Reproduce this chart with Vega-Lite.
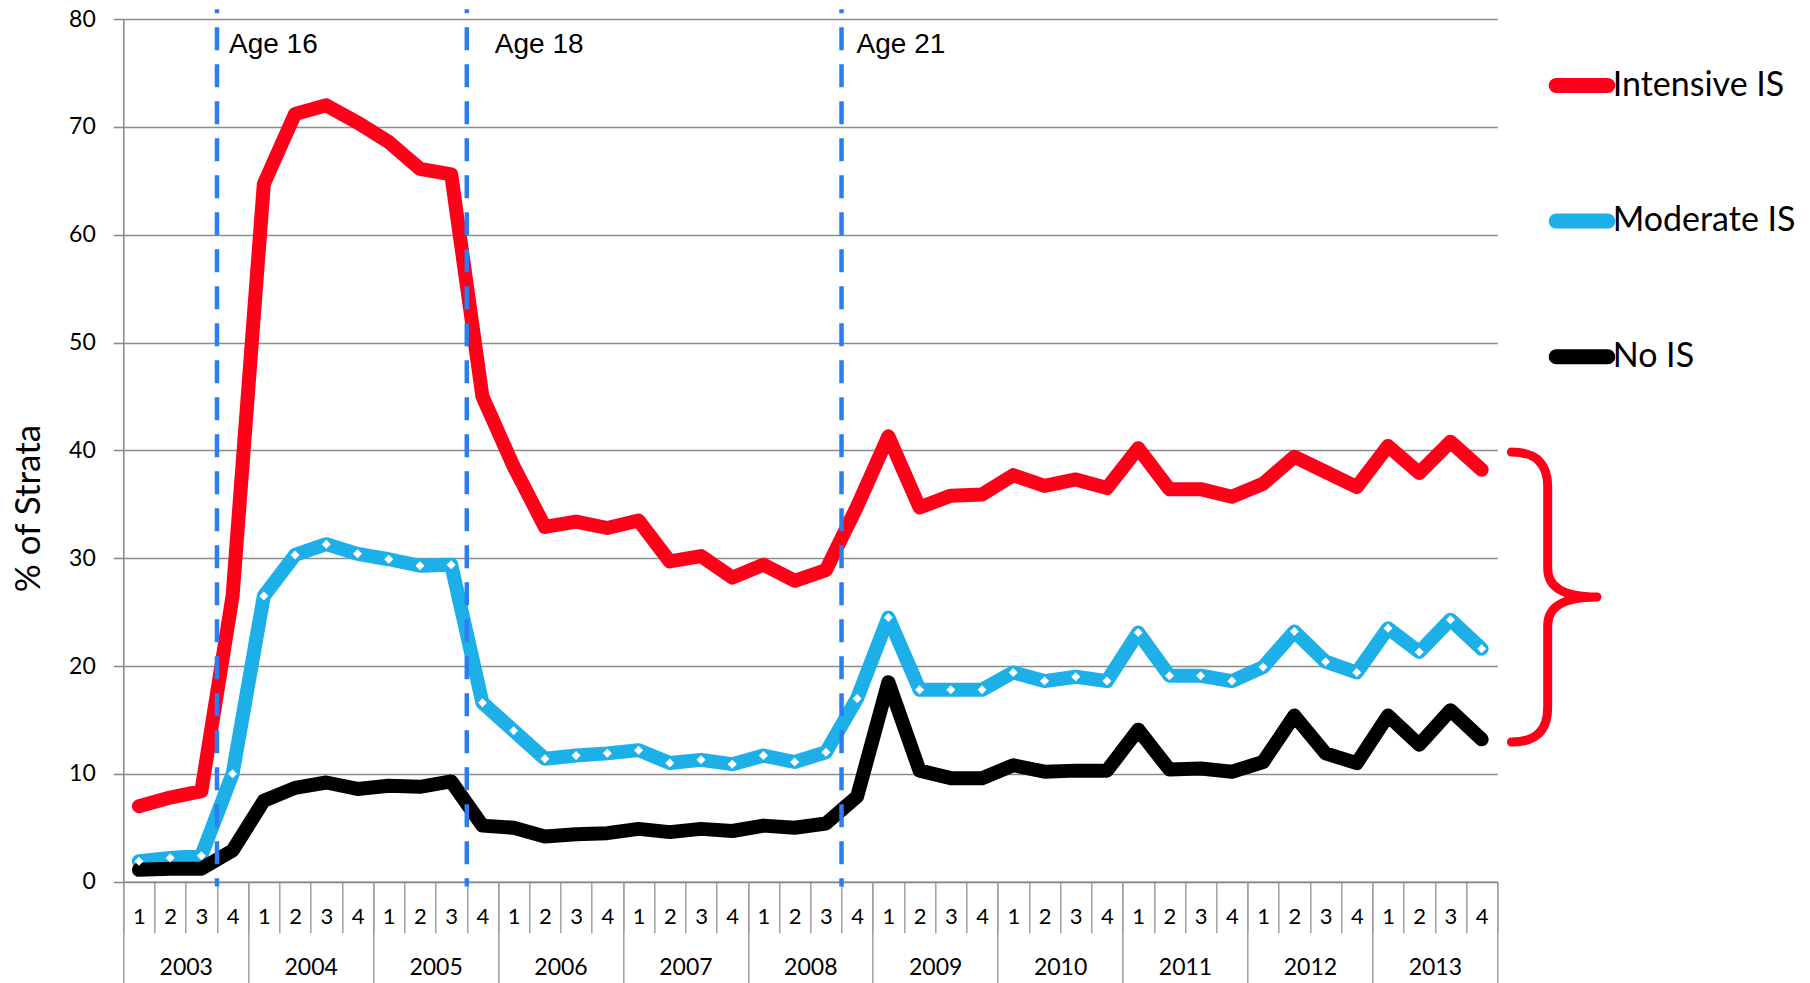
{
  "$schema": "https://vega.github.io/schema/vega-lite/v6.json",
  "width": 1374,
  "height": 862.7,
  "autosize": {"type": "none"},
  "padding": {"left": 123.3, "top": 19, "right": 312.7, "bottom": 101.3},
  "background": "white",
  "config": {
    "view": {"stroke": null},
    "axis": {"labelColor": "black", "titleColor": "black", "labelFont": "Lato", "titleFont": "Lato"}
  },
  "datasets": {
    "quarters": [
      {"period": "2003-1", "year": "2003", "Intensive IS": 7.0, "Moderate IS": 1.9, "No IS": 1.1},
      {"period": "2003-2", "year": "2003", "Intensive IS": 7.8, "Moderate IS": 2.2, "No IS": 1.2},
      {"period": "2003-3", "year": "2003", "Intensive IS": 8.4, "Moderate IS": 2.4, "No IS": 1.2},
      {"period": "2003-4", "year": "2003", "Intensive IS": 26.5, "Moderate IS": 10.0, "No IS": 2.9},
      {"period": "2004-1", "year": "2004", "Intensive IS": 64.7, "Moderate IS": 26.5, "No IS": 7.5},
      {"period": "2004-2", "year": "2004", "Intensive IS": 71.2, "Moderate IS": 30.3, "No IS": 8.7},
      {"period": "2004-3", "year": "2004", "Intensive IS": 72.0, "Moderate IS": 31.3, "No IS": 9.2},
      {"period": "2004-4", "year": "2004", "Intensive IS": 70.4, "Moderate IS": 30.4, "No IS": 8.6},
      {"period": "2005-1", "year": "2005", "Intensive IS": 68.6, "Moderate IS": 29.9, "No IS": 8.9},
      {"period": "2005-2", "year": "2005", "Intensive IS": 66.1, "Moderate IS": 29.3, "No IS": 8.8},
      {"period": "2005-3", "year": "2005", "Intensive IS": 65.6, "Moderate IS": 29.4, "No IS": 9.3},
      {"period": "2005-4", "year": "2005", "Intensive IS": 45.0, "Moderate IS": 16.6, "No IS": 5.2},
      {"period": "2006-1", "year": "2006", "Intensive IS": 38.5, "Moderate IS": 14.0, "No IS": 5.0},
      {"period": "2006-2", "year": "2006", "Intensive IS": 32.9, "Moderate IS": 11.4, "No IS": 4.2},
      {"period": "2006-3", "year": "2006", "Intensive IS": 33.4, "Moderate IS": 11.7, "No IS": 4.4},
      {"period": "2006-4", "year": "2006", "Intensive IS": 32.8, "Moderate IS": 11.9, "No IS": 4.5},
      {"period": "2007-1", "year": "2007", "Intensive IS": 33.5, "Moderate IS": 12.2, "No IS": 4.9},
      {"period": "2007-2", "year": "2007", "Intensive IS": 29.7, "Moderate IS": 11.0, "No IS": 4.6},
      {"period": "2007-3", "year": "2007", "Intensive IS": 30.2, "Moderate IS": 11.3, "No IS": 4.9},
      {"period": "2007-4", "year": "2007", "Intensive IS": 28.2, "Moderate IS": 10.9, "No IS": 4.7},
      {"period": "2008-1", "year": "2008", "Intensive IS": 29.4, "Moderate IS": 11.7, "No IS": 5.2},
      {"period": "2008-2", "year": "2008", "Intensive IS": 27.9, "Moderate IS": 11.1, "No IS": 5.0},
      {"period": "2008-3", "year": "2008", "Intensive IS": 28.9, "Moderate IS": 12.0, "No IS": 5.4},
      {"period": "2008-4", "year": "2008", "Intensive IS": 34.8, "Moderate IS": 17.0, "No IS": 7.9},
      {"period": "2009-1", "year": "2009", "Intensive IS": 41.3, "Moderate IS": 24.5, "No IS": 18.5},
      {"period": "2009-2", "year": "2009", "Intensive IS": 34.7, "Moderate IS": 17.8, "No IS": 10.3},
      {"period": "2009-3", "year": "2009", "Intensive IS": 35.8, "Moderate IS": 17.8, "No IS": 9.6},
      {"period": "2009-4", "year": "2009", "Intensive IS": 35.9, "Moderate IS": 17.8, "No IS": 9.6},
      {"period": "2010-1", "year": "2010", "Intensive IS": 37.7, "Moderate IS": 19.4, "No IS": 10.8},
      {"period": "2010-2", "year": "2010", "Intensive IS": 36.7, "Moderate IS": 18.6, "No IS": 10.2},
      {"period": "2010-3", "year": "2010", "Intensive IS": 37.3, "Moderate IS": 19.0, "No IS": 10.3},
      {"period": "2010-4", "year": "2010", "Intensive IS": 36.5, "Moderate IS": 18.6, "No IS": 10.3},
      {"period": "2011-1", "year": "2011", "Intensive IS": 40.2, "Moderate IS": 23.1, "No IS": 14.1},
      {"period": "2011-2", "year": "2011", "Intensive IS": 36.4, "Moderate IS": 19.1, "No IS": 10.4},
      {"period": "2011-3", "year": "2011", "Intensive IS": 36.4, "Moderate IS": 19.1, "No IS": 10.5},
      {"period": "2011-4", "year": "2011", "Intensive IS": 35.7, "Moderate IS": 18.6, "No IS": 10.2},
      {"period": "2012-1", "year": "2012", "Intensive IS": 36.9, "Moderate IS": 19.9, "No IS": 11.1},
      {"period": "2012-2", "year": "2012", "Intensive IS": 39.4, "Moderate IS": 23.2, "No IS": 15.4},
      {"period": "2012-3", "year": "2012", "Intensive IS": 38.0, "Moderate IS": 20.4, "No IS": 11.9},
      {"period": "2012-4", "year": "2012", "Intensive IS": 36.6, "Moderate IS": 19.4, "No IS": 11.0},
      {"period": "2013-1", "year": "2013", "Intensive IS": 40.4, "Moderate IS": 23.5, "No IS": 15.4},
      {"period": "2013-2", "year": "2013", "Intensive IS": 37.9, "Moderate IS": 21.3, "No IS": 12.7},
      {"period": "2013-3", "year": "2013", "Intensive IS": 40.8, "Moderate IS": 24.3, "No IS": 15.9},
      {"period": "2013-4", "year": "2013", "Intensive IS": 38.2, "Moderate IS": 21.6, "No IS": 13.2}
    ],
    "ages": [
      {"period": "2003-4", "label": "Age 16"},
      {"period": "2005-4", "label": "Age 18"},
      {"period": "2008-4", "label": "Age 21"}
    ],
    "brace": [
      {"period": "2013-4", "note": "brace"}
    ]
  },
  "resolve": {"scale": {"x": "independent"}, "axis": {"x": "independent"}},
  "layer": [
    {
      "layer": [
        {
          "data": {"name": "quarters"},
          "transform": [{"fold": ["Intensive IS", "Moderate IS", "No IS"], "as": ["series", "value"]}],
          "mark": {"type": "line", "strokeWidth": 14, "strokeCap": "round", "strokeJoin": "round"},
          "encoding": {
            "x": {
              "field": "period", "type": "ordinal",
              "scale": {"paddingInner": 0, "paddingOuter": 0},
              "axis": {
                "title": null,
                "labelExpr": "split(datum.value, '-')[1]",
                "labelAngle": 0,
                "labelFont": "Lato", "labelFontSize": 22,
                "labelBaseline": "middle",
                "labelPadding": -16.7,
                "tickBand": "extent",
                "tickSize": 51,
                "tickColor": "#a0a0a0", "tickWidth": 1.5,
                "domainColor": "#868686", "domainWidth": 1.5,
                "grid": false
              }
            },
            "y": {
              "field": "value", "type": "quantitative",
              "scale": {"domain": [0, 80], "nice": false},
              "axis": {
                "title": "% of Strata",
                "titleFont": "Lato", "titleFontSize": 35, "titleFontWeight": "normal",
                "titleX": -95, "titleY": 489, "titleBaseline": "middle", "titleAngle": -90,
                "values": [0, 10, 20, 30, 40, 50, 60, 70, 80],
                "labelFont": "Lato", "labelFontSize": 23, "labelPadding": 18,
                "tickSize": 10, "tickColor": "#868686", "tickWidth": 1.5,
                "domainColor": "#868686", "domainWidth": 1.5,
                "grid": true, "gridColor": "#8c8c8c", "gridWidth": 1.3
              }
            },
            "color": {
              "field": "series", "type": "nominal",
              "scale": {"domain": ["Intensive IS", "Moderate IS", "No IS"], "range": ["#FF0019", "#1DB0E8", "#000000"]},
              "legend": {
                "title": null,
                "orient": "none",
                "legendX": 1425.2,
                "legendY": 33,
                "symbolType": "stroke",
                "symbolSize": 2663,
                "symbolStrokeWidth": 15,
                "labelFont": "Lato",
                "labelFontSize": 34,
                "labelColor": "black",
                "labelOffset": -2.8,
                "rowPadding": 71.6,
                "labelLimit": 400,
                "encode": {"symbols": {"update": {"strokeCap": {"value": "round"}}}}
              }
            }
          }
        },
        {
          "data": {"name": "quarters"},
          "mark": {"type": "point", "shape": "diamond", "filled": true, "fill": "white", "size": 81, "opacity": 1, "strokeWidth": 0},
          "encoding": {
            "x": {"field": "period", "type": "ordinal"},
            "y": {"field": "Moderate IS", "type": "quantitative"}
          }
        },
        {
          "data": {"name": "ages"},
          "mark": {"type": "rule", "color": "#2B7DF2", "strokeWidth": 4.5, "strokeDash": [23, 14], "strokeDashOffset": 19},
          "encoding": {
            "x": {"field": "period", "type": "ordinal", "bandPosition": 0},
            "y": {"datum": 80.9},
            "y2": {"datum": -0.45}
          }
        },
        {
          "data": {"name": "ages"},
          "transform": [{"filter": "datum.label == 'Age 16'"}],
          "mark": {"type": "text", "align": "left", "baseline": "middle", "dx": 12, "font": "Liberation Sans", "fontSize": 28, "color": "black"},
          "encoding": {
            "x": {"field": "period", "type": "ordinal", "bandPosition": 0},
            "y": {"datum": 77.6},
            "text": {"field": "label"}
          }
        },
        {
          "data": {"name": "ages"},
          "transform": [{"filter": "datum.label == 'Age 18'"}],
          "mark": {"type": "text", "align": "left", "baseline": "middle", "dx": 28, "font": "Liberation Sans", "fontSize": 28, "color": "black"},
          "encoding": {
            "x": {"field": "period", "type": "ordinal", "bandPosition": 0},
            "y": {"datum": 77.6},
            "text": {"field": "label"}
          }
        },
        {
          "data": {"name": "ages"},
          "transform": [{"filter": "datum.label == 'Age 21'"}],
          "mark": {"type": "text", "align": "left", "baseline": "middle", "dx": 15, "font": "Liberation Sans", "fontSize": 28, "color": "black"},
          "encoding": {
            "x": {"field": "period", "type": "ordinal", "bandPosition": 0},
            "y": {"datum": 77.6},
            "text": {"field": "label"}
          }
        },
        {
          "data": {"name": "brace"},
          "mark": {
            "type": "point",
            "shape": "M -0.25 -1 C -0.08 -1 0 -0.92 0 -0.76 L 0 -0.2 C 0 -0.07 0.1 0 0.34 0 C 0.1 0 0 0.07 0 0.2 L 0 0.76 C 0 0.92 -0.08 1 -0.25 1",
            "size": 84100,
            "filled": false,
            "color": "#FF0019",
            "strokeWidth": 9,
            "strokeCap": "round",
            "strokeJoin": "round",
            "opacity": 1,
            "xOffset": 66
          },
          "encoding": {
            "x": {"field": "period", "type": "ordinal"},
            "y": {"datum": 26.4}
          }
        }
      ]
    },
    {
      "data": {"name": "quarters"},
      "mark": {"type": "point", "opacity": 0},
      "encoding": {
        "x": {
          "field": "year", "type": "ordinal",
          "scale": {"paddingInner": 0, "paddingOuter": 0},
          "axis": {
            "orient": "bottom",
            "title": null,
            "labelAngle": 0,
            "labelFont": "Lato", "labelFontSize": 23,
            "labelBaseline": "middle",
            "labelPadding": -16.3,
            "tickBand": "extent",
            "tickSize": 102,
            "tickColor": "#a0a0a0", "tickWidth": 1.5,
            "domain": false,
            "grid": false
          }
        }
      }
    }
  ]
}
